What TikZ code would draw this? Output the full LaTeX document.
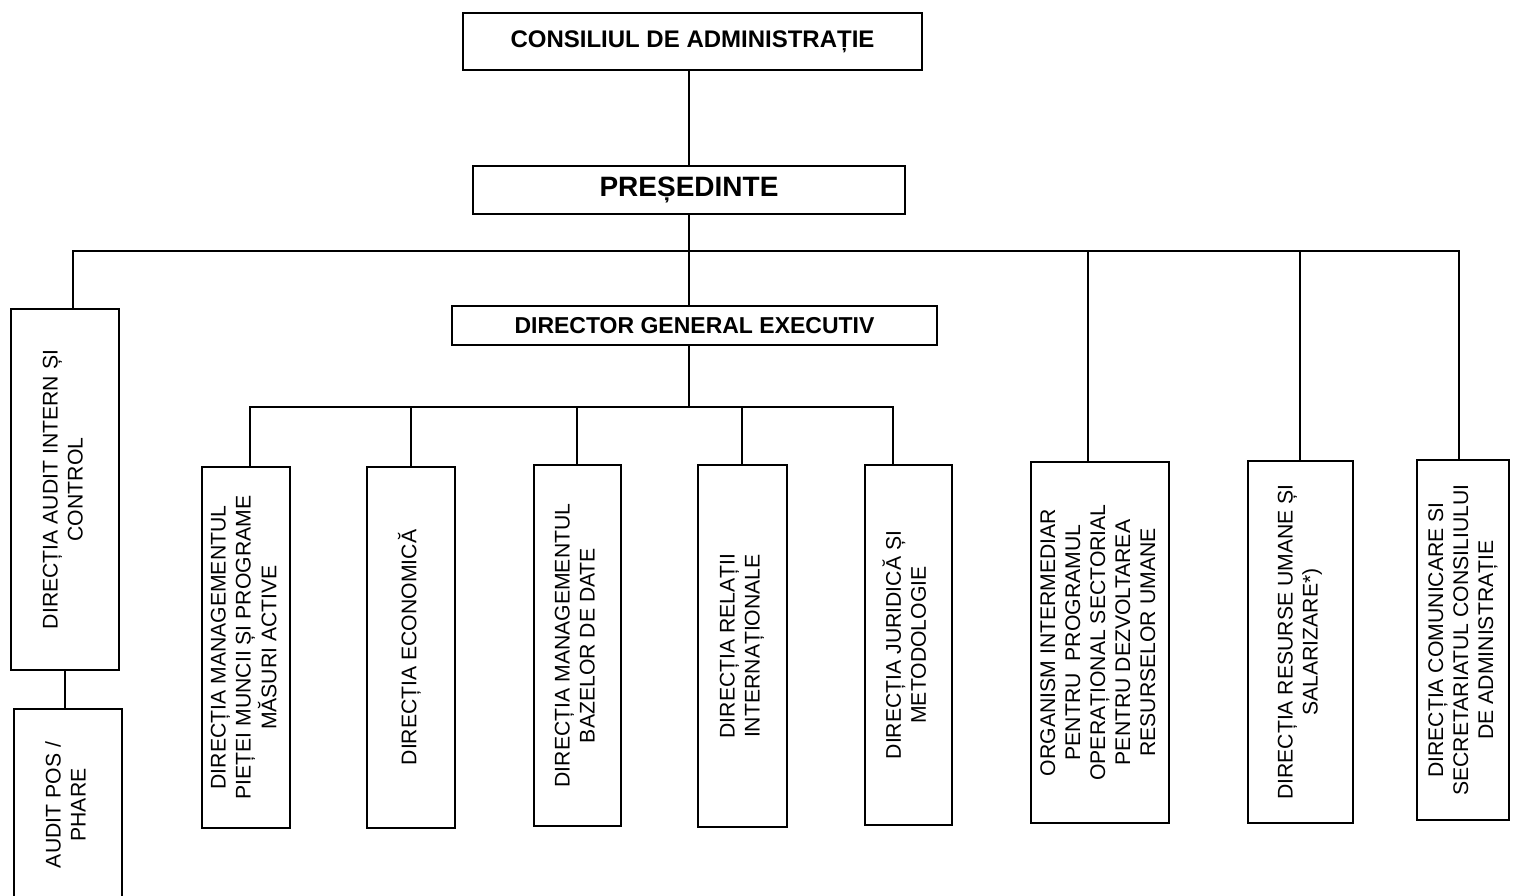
\documentclass[tikz,border=0pt]{standalone}
\usepackage{graphicx}
\usepackage{fontspec}
\setmainfont{Liberation Sans}
\newcommand{\vlines}[1]{\rotatebox{90}{\begin{tabular}{@{}c@{}}#1\end{tabular}}}

\begin{document}
\begin{tikzpicture}[x=0.5pt,y=-0.5pt,line width=1pt]
	\tikzstyle{every node}+=[inner sep=0pt]
	\tikzstyle{hbox}=[draw,black]
	\tikzstyle{vbox}=[draw,black,font=\fontsize{10.6}{12.5}\selectfont]
	\useasboundingbox (0,0) rectangle (1516,895);
	\clip (0,0) rectangle (1516,895);
	\node [hbox,minimum width=229.5pt,minimum height=28.5pt,font=\fontsize{12}{14}\selectfont\bfseries] (cons) at (692.5,41.5) {CONSILIUL DE ADMINISTRAȚIE};
	\node [hbox,minimum width=216pt,minimum height=24pt,font=\fontsize{14}{16}\selectfont\bfseries] (pres) at (689,190) {PREȘEDINTE};
	\node [hbox,minimum width=242.5pt,minimum height=19.5pt,font=\fontsize{11.5}{14}\selectfont\bfseries] (dge) at (694.5,325.5) {DIRECTOR GENERAL EXECUTIV};
	\node [vbox,minimum width=54pt,minimum height=180.5pt] (aud) at (65,489.5) {\vlines{DIRECȚIA AUDIT INTERN ȘI\\CONTROL}};
	\node [vbox,minimum width=54pt,minimum height=96pt] (pos) at (68,805) {\vlines{AUDIT POS /\\PHARE}};
	\node [vbox,minimum width=44pt,minimum height=180.5pt] (b1) at (246,647.5) {\vlines{DIRECȚIA MANAGEMENTUL\\PIEȚEI MUNCII ȘI PROGRAME\\MĂSURI ACTIVE}};
	\node [vbox,minimum width=44pt,minimum height=180.5pt] (b2) at (411,647.5) {\vlines{DIRECȚIA ECONOMICĂ}};
	\node [vbox,minimum width=43.5pt,minimum height=180.5pt] (b3) at (577,645.5) {\vlines{DIRECȚIA MANAGEMENTUL\\BAZELOR DE DATE}};
	\node [vbox,minimum width=44.5pt,minimum height=181pt] (b4) at (742,646) {\vlines{DIRECȚIA RELAȚII\\INTERNAȚIONALE}};
	\node [vbox,minimum width=43.5pt,minimum height=180pt] (b5) at (908,645) {\vlines{DIRECȚIA JURIDICĂ ȘI\\METODOLOGIE}};
	\node [vbox,minimum width=69pt,minimum height=180.5pt] (org) at (1100,642.5) {\vlines{ORGANISM INTERMEDIAR\\PENTRU~ PROGRAMUL\\OPERAȚIONAL SECTORIAL\\PENTRU DEZVOLTAREA\\RESURSELOR UMANE}};
	\node [vbox,minimum width=52.5pt,minimum height=181pt] (res) at (1300,642) {\vlines{DIRECȚIA RESURSE UMANE ȘI\\SALARIZARE*)}};
	\node [vbox,minimum width=46pt,minimum height=180pt] (com) at (1463,640) {\vlines{DIRECȚIA COMUNICARE SI\\SECRETARIATUL CONSILIULUI\\DE ADMINISTRAȚIE}};
	\coordinate (bus1) at (689,251);
	\coordinate (bus2) at (689,407);
	\draw (pres.north) -- (pres.north |- cons.south);
	\draw (pres.south) -- (pres.south |- dge.north);
	\draw (dge.south -| bus2) -- (bus2);
	\draw ([xshift=4pt]aud.north) |- (bus1) -| ([xshift=-2pt]com.north);
	\draw ([xshift=-6pt]org.north) -- ([xshift=-6pt]org.north |- bus1);
	\draw (res.north) -- (res.north |- bus1);
	\draw ([xshift=2pt]b1.north) |- (bus2) -| ([xshift=-7.5pt]b5.north);
	\foreach \n in {b2,b3,b4}
		\draw (\n.north) -- (\n.north |- bus2);
	\draw (aud.south) -- (aud.south |- pos.north);
\end{tikzpicture}
\end{document}
